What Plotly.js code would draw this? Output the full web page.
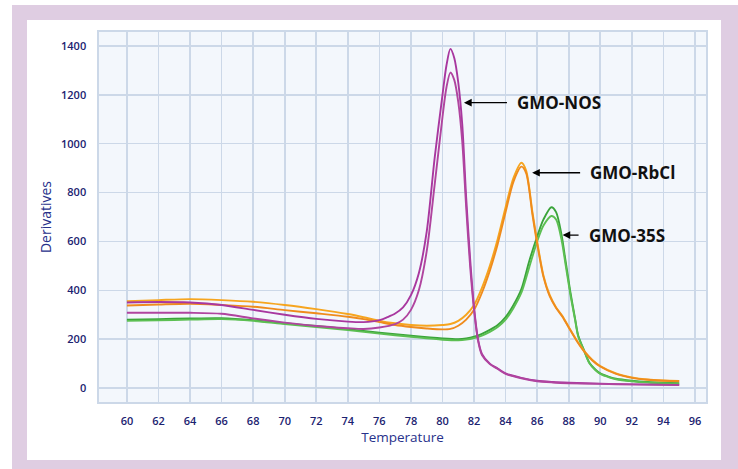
<!DOCTYPE html>
<html>
<head>
<meta charset="utf-8">
<script src="https://cdn.plot.ly/plotly-3.0.1.min.js"></script>
<style>html,body{margin:0;padding:0;background:#fff;}#chart{width:738px;height:469px;}</style>
</head>
<body>
<div id="chart"></div>
<script>
// Temperature (x) and derivative (y) readings for each melt curve
const nosA_x = [60,62,64,66,68,70,72,74,75,76,76.5,77,77.5,78,78.5,79,79.5,80,80.25,80.5,80.75,81,81.25,81.5,81.75,82,82.25,82.5,83,83.5,84,85,86,87,88,90,92,95];
const nosA_y = [350,352,350,340,320,300,283,272,270,278,290,305,330,380,470,640,940,1200,1320,1388,1350,1250,1080,780,530,330,200,140,100,80,60,42,30,25,22,18,15,13];
const nosB_x = [60,62,64,66,68,70,72,74,75,76,77,77.5,78,78.5,79,79.5,80,80.25,80.5,80.75,81,81.25,81.5,81.75,82,82.25,82.5,83,83.5,84,85,86,87,88,90,92,95];
const nosB_y = [308,308,308,304,285,268,254,245,242,248,262,280,320,400,560,830,1110,1230,1291,1260,1170,1010,740,500,320,195,135,98,78,58,40,28,23,20,17,15,12];

const rbA_x = [60,62,64,66,68,70,72,74,75,76,77,78,79,80,80.5,81,81.5,82,82.5,83,83.5,84,84.5,85,85.3,85.7,86,86.4,86.8,87.2,87.6,88,88.5,89,89.5,90,91,92,93,94,95];
const rbA_y = [355,360,364,360,353,340,323,303,290,275,265,258,255,258,262,275,300,340,410,500,610,740,860,922,890,720,600,460,380,330,295,250,196,150,115,90,60,44,35,31,29];
const rbB_x = [60,62,64,66,68,70,72,74,75,76,77,78,79,80,80.5,81,81.5,82,82.5,83,83.5,84,84.5,85,85.3,85.7,86,86.4,86.8,87.2,87.6,88,88.5,89,89.5,90,91,92,93,94,95];
const rbB_y = [338,342,345,340,333,319,306,292,282,270,258,250,244,240,242,255,280,320,390,480,590,720,845,906,880,710,590,455,375,328,292,248,194,148,113,88,58,42,34,30,28];

const s35A_x = [60,62,64,66,68,70,72,74,76,78,80,81,81.5,82,82.5,83,83.5,84,84.5,85,85.5,86,86.4,86.9,87.2,87.55,87.8,88.1,88.4,88.6,89,89.3,89.7,90,90.6,91,92,93,94,95];
const s35A_y = [280,282,285,286,278,265,254,241,227,214,203,200,203,210,222,238,258,290,340,405,520,620,690,740,720,625,520,395,285,215,150,105,75,60,45,38,30,25,22,20];
const s35B_x = [60,62,64,66,68,70,72,74,76,78,80,81,81.5,82,82.5,83,83.5,84,84.5,85,85.5,86,86.4,86.9,87.2,87.55,87.8,88.1,88.4,88.6,89,89.3,89.7,90,90.6,91,92,93,94,95];
const s35B_y = [275,277,280,282,275,262,250,237,223,210,198,195,198,205,215,230,250,280,328,390,495,600,665,704,690,605,505,385,280,212,148,103,73,58,43,36,28,23,20,18];

const xTicks = [60,62,64,66,68,70,72,74,76,78,80,82,84,86,88,90,92,94,96];
const yTicks = [0,200,400,600,800,1000,1200,1400];
const labels = ['GMO-NOS','GMO-RbCl','GMO-35S'];
const arrowX = [81.36, 85.68, 87.61];
const arrowY = [1168, 881, 626];
const arrowAx = [51, 56, 24];

function tr(x, y, color) {
  return {x: x, y: y, type: 'scatter', mode: 'lines',
    line: {color: color, width: 1.9, shape: 'spline', smoothing: 0.8},
    hoverinfo: 'skip', showlegend: false};
}

const data = [
  tr(s35A_x, s35A_y, '#3aa43a'),
  tr(s35B_x, s35B_y, '#5cbf52'),
  tr(rbA_x, rbA_y, '#f6a51f'),
  tr(rbB_x, rbB_y, '#ef8b1d'),
  tr(nosA_x, nosA_y, '#a8379f'),
  tr(nosB_x, nosB_y, '#b0449f')
];

const navy = '#1b2270';
const gridc = '#ccd8e8';

const annotations = labels.map((t, i) => ({
  x: arrowX[i], y: arrowY[i], xref: 'x', yref: 'y',
  text: '<b>' + t + '</b>', showarrow: true,
  ax: arrowAx[i], ay: 0, xanchor: 'left', yanchor: 'middle',
  arrowhead: 2, arrowsize: 1.1, arrowwidth: 1.4, arrowcolor: '#000',
  startstandoff: 8,
  font: {family: 'Open Sans, sans-serif', size: 17, color: '#111'}
}));

const layout = {
  width: 738, height: 469,
  margin: {l: 99, r: 32, t: 32, b: 67},
  paper_bgcolor: '#ffffff',
  plot_bgcolor: 'rgba(0,0,0,0)',
  showlegend: false,
  xaxis: {
    range: [58.23, 96.7], tickvals: xTicks, ticktext: xTicks.map(String),
    showgrid: true, gridcolor: gridc, gridwidth: 1.6,
    zeroline: false, showline: true, linecolor: gridc, linewidth: 1.6, mirror: true,
    ticks: '', ticklabelstandoff: 8,
    tickfont: {family: 'Open Sans, sans-serif', size: 11, color: navy, weight: 600},
    title: {text: 'Temperature', standoff: 4,
      font: {family: 'Open Sans, sans-serif', size: 13.5, color: '#27318b'}}
  },
  yaxis: {
    range: [-57, 1457], tickvals: yTicks, ticktext: yTicks.map(String),
    showgrid: true, gridcolor: gridc, gridwidth: 1.6,
    zeroline: false, showline: true, linecolor: gridc, linewidth: 1.6, mirror: true,
    ticks: '', ticklabelstandoff: 9,
    tickfont: {family: 'Open Sans, sans-serif', size: 11, color: navy, weight: 600},
    title: {text: 'Derivatives', standoff: 6,
      font: {family: 'Open Sans, sans-serif', size: 14, color: '#27318b'}}
  },
  shapes: [
    {type: 'rect', xref: 'paper', yref: 'paper', layer: 'below',
     x0: -0.1433, x1: 1.0527, y0: -0.181, y1: 1.073,
     fillcolor: '#dfcde2', line: {width: 0}},
    {type: 'rect', xref: 'paper', yref: 'paper', layer: 'below',
     x0: -0.1186, x1: 1.0247, y0: -0.1568, y1: 1.0324,
     fillcolor: '#ffffff', line: {width: 0}},
    {type: 'rect', xref: 'paper', yref: 'paper', layer: 'below',
     x0: 0, x1: 1, y0: 0, y1: 1,
     fillcolor: '#f3f7fc', line: {width: 0}}
  ],
  annotations: annotations
};

Plotly.newPlot('chart', data, layout, {displayModeBar: false, staticPlot: true});
</script>
</body>
</html>
